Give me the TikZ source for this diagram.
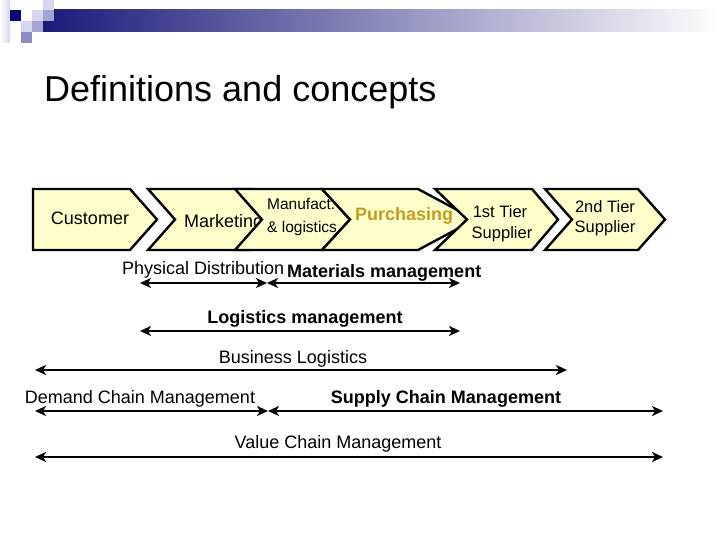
\documentclass[tikz,border=0pt]{standalone}
\usepackage{fontspec}
\setmainfont{Liberation Sans}
\usetikzlibrary{arrows.meta}
\definecolor{chev}{RGB}{255,255,204}
\definecolor{gold}{RGB}{196,156,30}
\definecolor{navy}{RGB}{26,26,122}
\definecolor{barmid}{RGB}{205,205,218}
\definecolor{sqdark}{RGB}{10,10,120}
\definecolor{sqlight}{RGB}{215,215,238}
\definecolor{sqmid}{RGB}{165,165,210}
\definecolor{sqmed}{RGB}{140,140,195}
\begin{document}
\begin{tikzpicture}[x=1pt,y=-1pt,
  chevron/.style={draw=black,fill=chev,line width=2.4pt,line join=miter},
  txt/.style={font=\fontsize{18}{20}\selectfont,anchor=base,inner sep=0pt},
  btxt/.style={font=\fontsize{18}{20}\selectfont\bfseries,anchor=base,inner sep=0pt},
  stxt/.style={font=\fontsize{16.5}{19}\selectfont,anchor=base,inner sep=0pt},
  dbl/.style={{Stealth[length=11pt,width=10pt,inset=3pt]}-{Stealth[length=11pt,width=10pt,inset=3pt]},line width=2pt}]
\useasboundingbox (0,0) rectangle (720,540);
\fill[white] (0,0) rectangle (720,540);
% header
\shade[left color=white,right color=sqlight] (0,0) rectangle (10,43);
\shade[left color=navy,middle color=barmid,right color=white] (43,10) rectangle (720,32);
\fill[sqdark] (10,10) rectangle (21,21);
\fill[sqlight] (43,0) rectangle (54,10);
\fill[sqlight] (32,10) rectangle (43,21);
\fill[sqmid] (43,10) rectangle (54,21);
\fill[sqlight] (21,21) rectangle (32,32);
\fill[sqmid] (32,21) rectangle (43,32);
\fill[sqmed] (21,32) rectangle (32,43);
% title
\node[anchor=base west,inner sep=0pt,font=\fontsize{36}{40}\selectfont] (title) at (44,102) {Definitions and concepts};
% chevrons
\draw[chevron] (33,189) -- (130,189) -- (157,219.5) -- (130,250) -- (33,250) -- cycle;
\node[txt] (customer) at (90,225) {Customer};
\draw[chevron] (148,189) -- (250,189) -- (277,219.5) -- (250,250) -- (148,250) -- (175,219.5) -- cycle;
\node[txt,anchor=base west] (marketing) at (184,227) {Marketing};
\draw[chevron] (235,189) -- (322,189) -- (350,219.5) -- (322,250) -- (235,250) -- (262,219.5) -- cycle;
\node[anchor=base west,inner sep=0pt,font=\fontsize{15.5}{18}\selectfont] (manuf1) at (267,210) {Manufact.};
\node[anchor=base west,inner sep=0pt,font=\fontsize{15.5}{18}\selectfont] (manuf2) at (267,233) {\& logistics};
\draw[chevron] (322,189) -- (418,189) -- (475,219.5) -- (418,250) -- (322,250) -- (350,219.5) -- cycle;
\node[btxt,text=gold,anchor=base west] (purch) at (355,221) {Purchasing};
\draw[chevron] (435,189) -- (532,189) -- (558,219.5) -- (532,250) -- (435,250) -- (467,219.5) -- cycle;
\node[stxt] (tier1a) at (500,218) {1st Tier};
\node[stxt] (tier1b) at (502,239) {Supplier};
\draw[chevron] (545,189) -- (638,189) -- (665,219.5) -- (638,250) -- (545,250) -- (572,219.5) -- cycle;
\node[stxt] (tier2a) at (605,212) {2nd Tier};
\node[stxt] (tier2b) at (605,233) {Supplier};
% labels
\node[txt,anchor=base west] (pd) at (122,274) {Physical Distribution};
\node[btxt,anchor=base west] (mm) at (287,277) {Materials management};
\node[btxt] (lm) at (305,323) {Logistics management};
\node[txt] (bl) at (293,363) {Business Logistics};
\node[txt] (dcm) at (140,403) {Demand Chain Management};
\node[btxt] (scm) at (446,403) {Supply Chain Management};
\node[txt] (vcm) at (338,448) {Value Chain Management};
% arrow end points
\coordinate (pdL) at (140,283);
\coordinate (mid1) at (267,283);
\coordinate (mmR) at (460,283);
\coordinate (lmL) at (140,331);
\coordinate (lmR) at (460,331);
\coordinate (blL) at (35,370);
\coordinate (blR) at (567,370);
\coordinate (dcL) at (35,411);
\coordinate (mid2) at (268,411);
\coordinate (scR) at (663,411);
\coordinate (vcL) at (35,457);
\coordinate (vcR) at (663,457);
\draw[dbl] (pdL) -- (mid1);
\draw[dbl] (mid1) -- (mmR);
\draw[dbl] (lmL) -- (lmR);
\draw[dbl] (blL) -- (blR);
\draw[dbl] (dcL) -- (mid2);
\draw[dbl] (mid2) -- (scR);
\draw[dbl] (vcL) -- (vcR);
\end{tikzpicture}
\end{document}
